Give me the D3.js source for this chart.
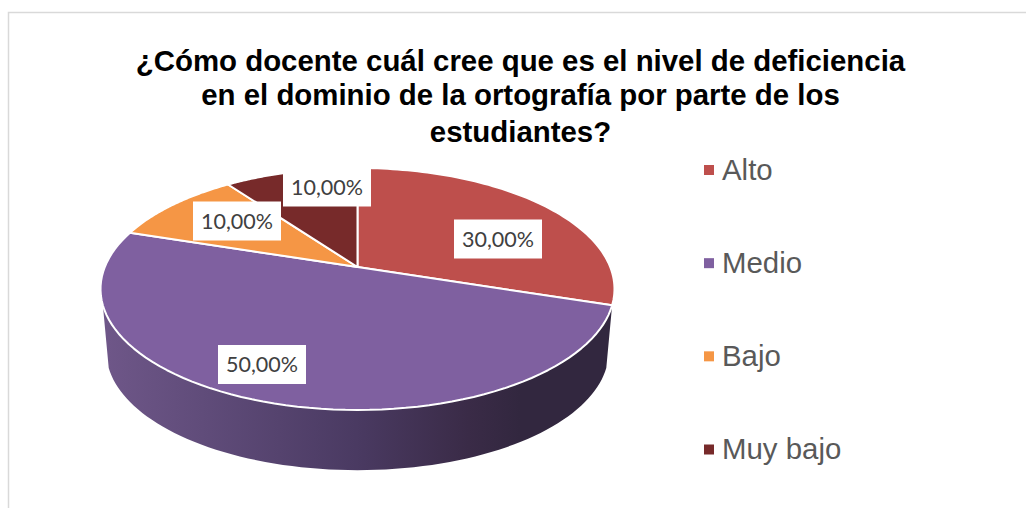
<!DOCTYPE html>
<html><head><meta charset="utf-8">
<script src="https://cdn.jsdelivr.net/npm/d3@7"></script>
<style>html,body{margin:0;padding:0;background:#fff}svg{display:block}</style>
</head><body><svg id="c" width="1026" height="508"></svg>
<script>
const categories = ["Alto","Medio","Bajo","Muy bajo"];
const values = [30,50,10,10];
const colors = ["#BE4F4C","#7F60A0","#F59645","#772A2A"];
const titleLines = ["¿Cómo docente cuál cree que es el nivel de deficiencia","en el dominio de la ortografía por parte de los","estudiantes?"];

const svg = d3.select("#c");
const fmt = v => d3.format(".2f")(v).replace(".", ",") + "%";

// frame
svg.append("path").attr("d","M8.5 508V12.5H1026").attr("fill","none").attr("stroke","#d9d9d9").attr("stroke-width",1.5);

// perspective projection of the pie disc
const K = 0.1818, R = 252.7, S = 117, CX = 357.5, CY = 267;
function project(theta, scale, dy){
  const u = Math.sin(theta), v = -Math.cos(theta), p = 1/(1-K*v);
  return [CX + scale*R*u*p, CY + dy + scale*S*v*p];
}
const arcPoints = (a0,a1,scale,dy) => d3.range(0,81).map(i => project(a0+(a1-a0)*i/80,scale,dy));
const line = d3.line();
const pie = d3.pie().sort(null).value(d=>d)(values);

// side wall of the Medio slice
const defs = svg.append("defs");
const grad = defs.append("linearGradient").attr("id","side").attr("gradientUnits","userSpaceOnUse")
  .attr("x1",100).attr("x2",612).attr("y1",0).attr("y2",0);
[[0,"#6F5789"],[0.2,"#604C7A"],[0.5,"#4A3A62"],[0.72,"#3A2B47"],[0.82,"#32273F"],[1,"#32273F"]]
  .forEach(s=>grad.append("stop").attr("offset",s[0]).attr("stop-color",s[1]));
const A0 = pie[1].startAngle, A1 = A0 + (Math.PI - A0)*2;
const sideTop = arcPoints(A0,A1,1,0), sideBottom = arcPoints(A1,A0,0.977,63.5);
svg.append("path").attr("d",line(sideTop.concat(sideBottom))+"Z").attr("fill","url(#side)");

// top face
svg.append("g").selectAll("path").data(pie).join("path")
  .attr("d",d=>line([[CX,CY]].concat(arcPoints(d.startAngle,d.endAngle,1,0)))+"Z")
  .attr("fill",(d,i)=>colors[i]).attr("stroke","#fff").attr("stroke-width",2).attr("stroke-linejoin","round");

// data labels
const labelCenters = [[498,239],[262,364.5],[237,221],[327,187]];
const lab = svg.append("g").selectAll("g").data(values).join("g")
  .attr("transform",(d,i)=>`translate(${labelCenters[i][0]},${labelCenters[i][1]})`);
lab.append("rect").attr("x",-44).attr("y",-19.5).attr("width",88).attr("height",39).attr("fill","#fff");
lab.append("text").attr("text-anchor","middle").attr("y",7.5).attr("font-family","Lato")
  .attr("font-size",21.5).attr("fill","#404040").text(d=>fmt(d));

// title
svg.append("g").selectAll("text").data(titleLines).join("text")
  .attr("x",520.5).attr("y",(d,i)=>[71,105,141.5][i]).attr("text-anchor","middle")
  .attr("font-family","Liberation Sans").attr("font-weight","bold").attr("font-size",29.4).attr("fill","#000").text(d=>d);

// legend
const ly = d3.scalePoint().domain(categories).range([170,449.5]);
const leg = svg.append("g").selectAll("g").data(categories).join("g").attr("transform",d=>`translate(704,${ly(d)})`);
leg.append("rect").attr("x",0).attr("y",-5).attr("width",10).attr("height",10).attr("fill",(d,i)=>colors[i]);
leg.append("text").attr("x",18).attr("y",9.5).attr("font-family","Liberation Sans").attr("font-size",29.4).attr("fill","#595959").text(d=>d);
</script></body></html>
